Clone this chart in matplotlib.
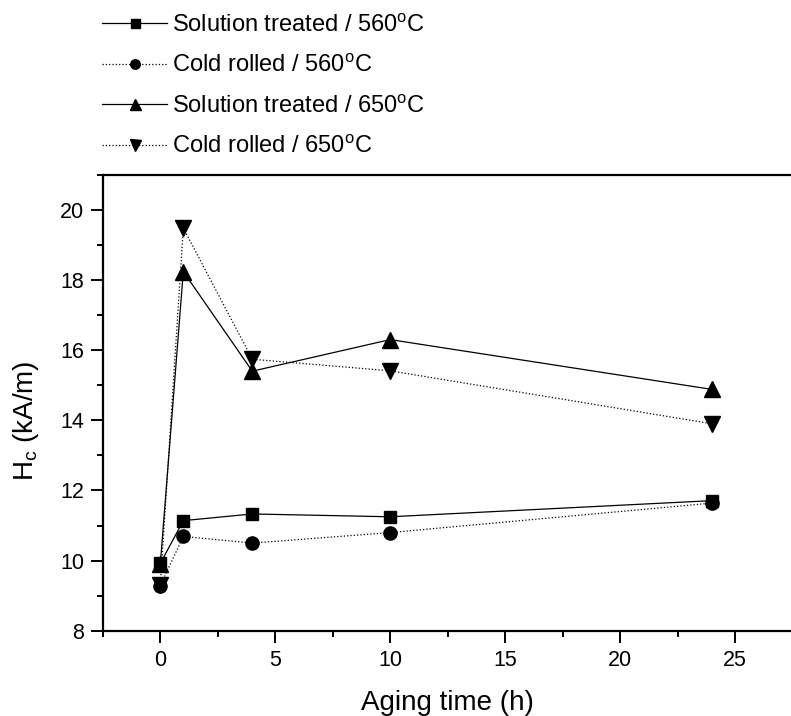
import matplotlib
matplotlib.use("Agg")
import matplotlib.pyplot as plt
from matplotlib.ticker import MultipleLocator

plt.rcParams['font.family'] = ['Liberation Sans', 'DejaVu Sans']
plt.rcParams['mathtext.fontset'] = 'custom'
plt.rcParams['mathtext.rm'] = 'Liberation Sans'
plt.rcParams['mathtext.it'] = 'Liberation Sans'

# aging time (h)
aging_time = [0, 1, 4, 10, 24]

# coercivity Hc (kA/m)
st_560 = [9.92, 11.14, 11.33, 11.25, 11.71]
cr_560 = [9.29, 10.69, 10.50, 10.80, 11.64]
st_650 = [9.90, 18.24, 15.40, 16.30, 14.88]
cr_650 = [9.30, 19.48, 15.74, 15.41, 13.90]

labels = ['Solution treated / 560$^{\\mathrm{o}}$C',
          'Cold rolled / 560$^{\\mathrm{o}}$C',
          'Solution treated / 650$^{\\mathrm{o}}$C',
          'Cold rolled / 650$^{\\mathrm{o}}$C']


def main():
    fig = plt.figure(figsize=(7.91, 7.16), dpi=100)
    ax = fig.add_axes([0.130, 0.119, 0.872, 0.637])

    ax.plot(aging_time, st_560, '-', color='black', lw=0.9,
            marker='s', ms=9, label=labels[0])
    ax.plot(aging_time, cr_560, ':', color='black', lw=0.9,
            marker='o', ms=9.5, label=labels[1])
    ax.plot(aging_time, st_650, '-', color='black', lw=0.9,
            marker='^', ms=11, label=labels[2])
    ax.plot(aging_time, cr_650, ':', color='black', lw=0.9,
            marker='v', ms=11, label=labels[3])

    ax.set_xlim(-2.5, 27.5)
    ax.set_ylim(8, 21)
    ax.xaxis.set_major_locator(MultipleLocator(5))
    ax.xaxis.set_minor_locator(MultipleLocator(2.5))
    ax.yaxis.set_major_locator(MultipleLocator(2))
    ax.yaxis.set_minor_locator(MultipleLocator(1))

    for side in ['left', 'bottom', 'top']:
        ax.spines[side].set_linewidth(1.6)
    ax.spines['right'].set_visible(False)

    ax.tick_params(which='major', direction='out', length=8.5, width=1.4,
                   labelsize=15.5, pad=5, top=False, right=False)
    ax.tick_params(which='minor', direction='out', length=4.5, width=1.4,
                   top=False, right=False)

    ax.set_xlabel('Aging time (h)', fontsize=20, labelpad=14)
    ax.set_ylabel('H$_{\\mathrm{c}}$ (kA/m)', fontsize=20)
    ax.yaxis.set_label_coords(-0.09, 0.46)

    fig.legend(loc='upper left', bbox_to_anchor=(0.129, 0.980),
               frameon=False, fontsize=17, handlelength=2.75,
               handletextpad=0.2, labelspacing=0.78, markerscale=0.72,
               borderpad=0, borderaxespad=0)

    fig.savefig('out.png', dpi=100)


if __name__ == "__main__":
    main()
